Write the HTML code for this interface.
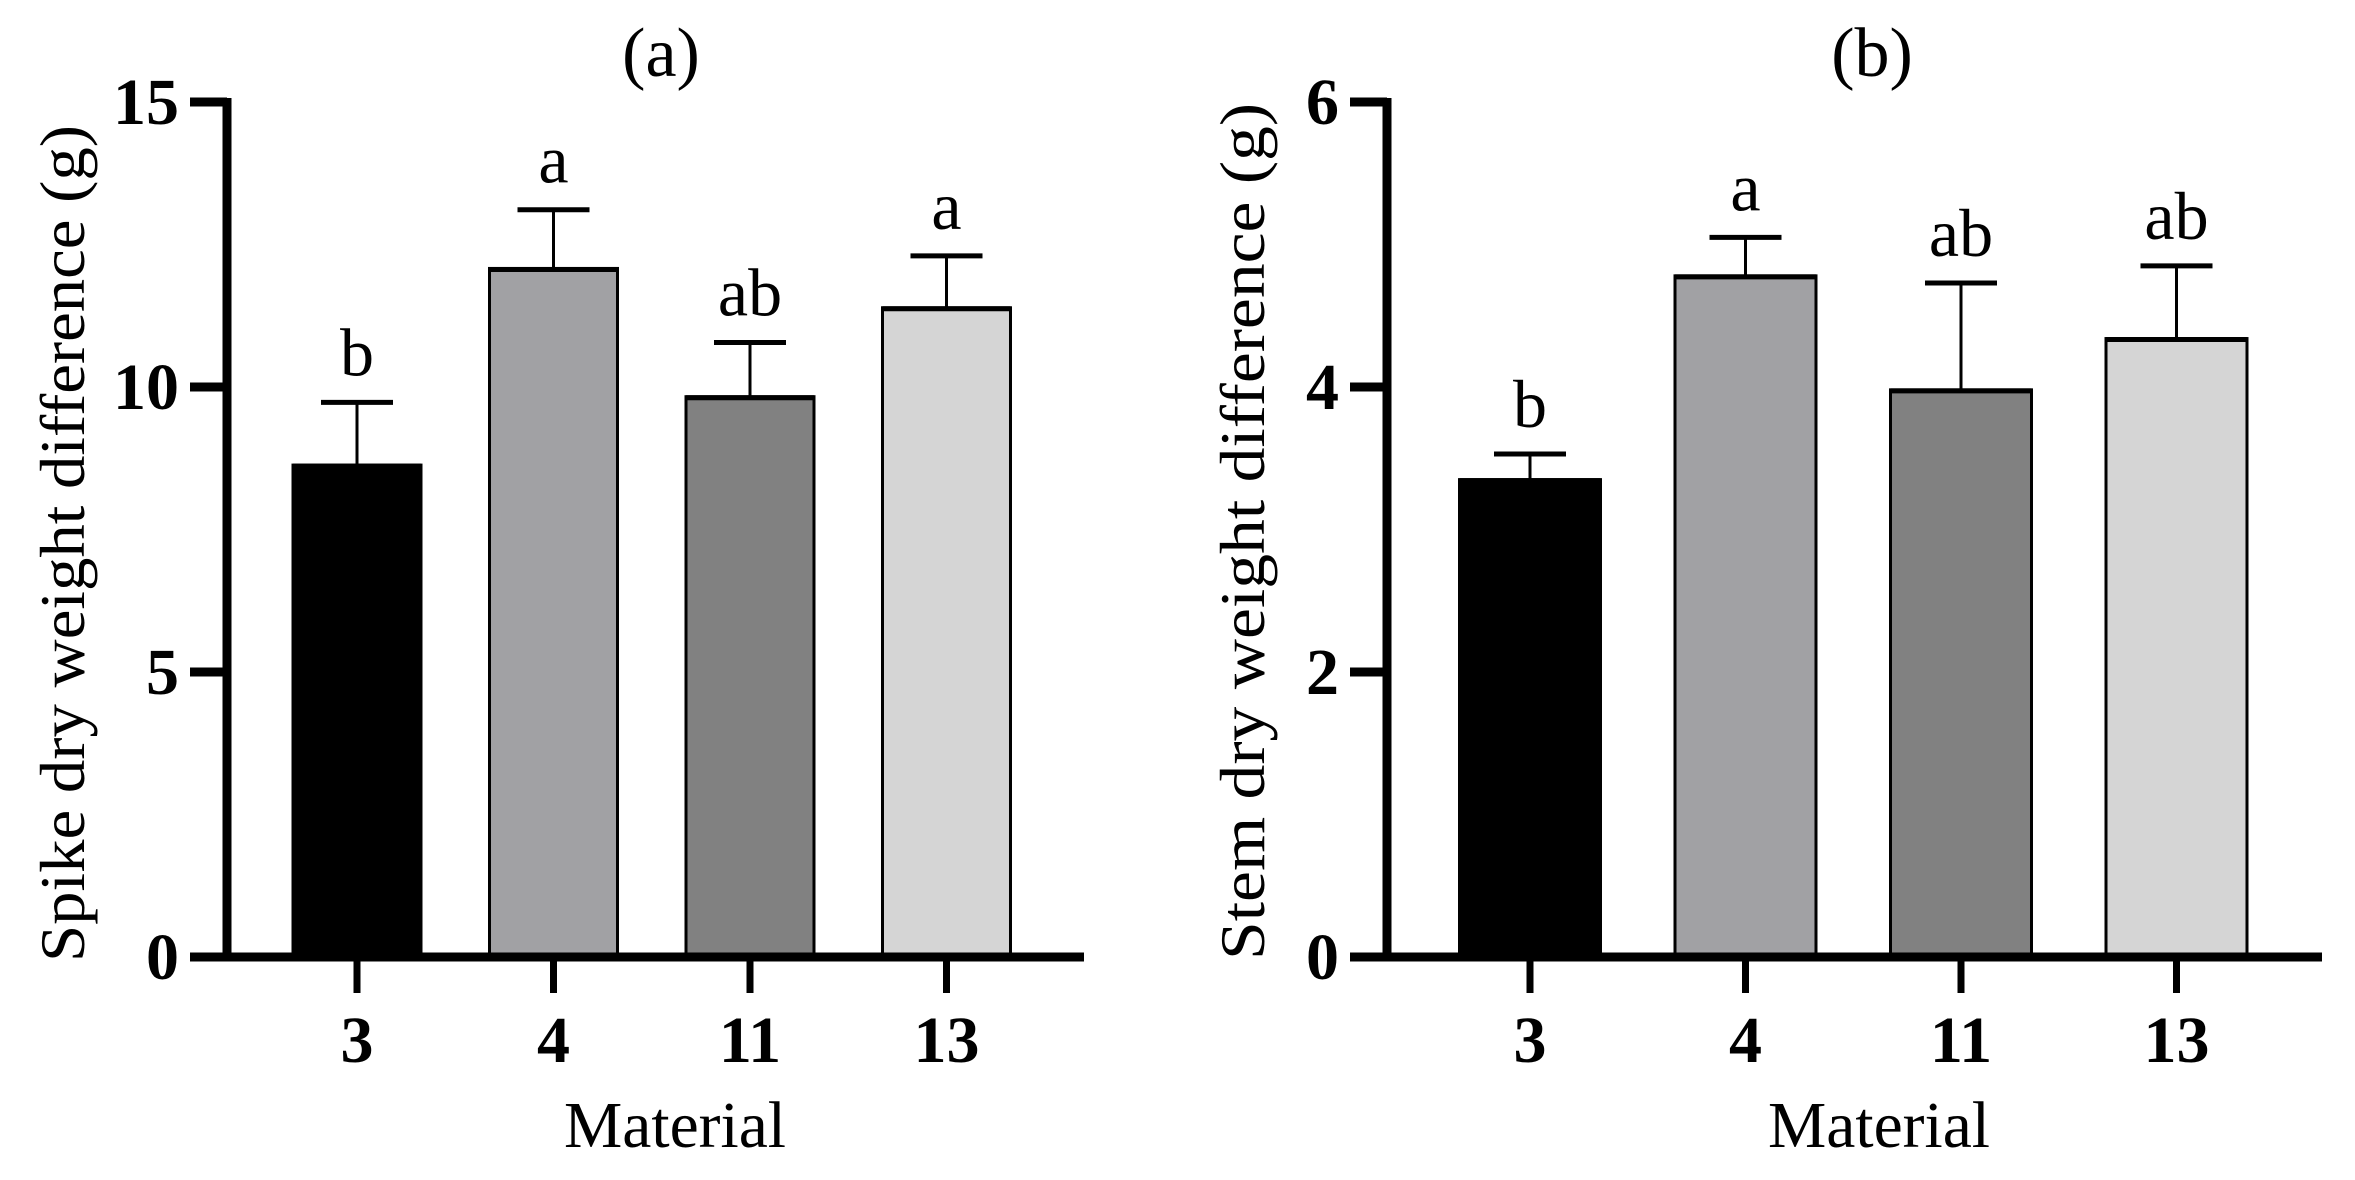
<!DOCTYPE html>
<html><head><meta charset="utf-8"><style>
html,body{margin:0;padding:0;background:#fff;}
svg{display:block;font-family:"Liberation Serif",serif;}
</style></head><body>
<svg id="fig" width="2355" height="1180" viewBox="0 0 2355 1180" xmlns="http://www.w3.org/2000/svg"></svg>
<script>
const categories = ["3","4","11","13"];
const spikeValues = [8.63, 12.08, 9.83, 11.39];
const spikeErrors = [1.10, 1.03, 0.95, 0.91];
const spikeLetters = ["b","a","ab","a"];
const spikeTicks = [0,5,10,15];
const stemValues = [3.35, 4.78, 3.98, 4.34];
const stemErrors = [0.18, 0.27, 0.75, 0.51];
const stemLetters = ["b","a","ab","ab"];
const stemTicks = [0,2,4,6];
const barColors = ["#000000","#a1a1a4","#818181","#d5d5d5"];

const NS="http://www.w3.org/2000/svg";
const svg=document.getElementById('fig');
function mk(tag,attrs,parent){const e=document.createElementNS(NS,tag);for(const k in attrs)e.setAttribute(k,attrs[k]);(parent||svg).appendChild(e);return e;}

function panel(cfg){
  const g=mk('g',{});
  
  
  const y=v=>cfg.y0-(v/cfg.max)*(cfg.y0-cfg.yTop);
  const x=i=>cfg.x0+i*cfg.step;
  cfg.values.forEach((v,i)=>{
    const cx=x(i), top=y(v), topE=y(v+cfg.errors[i]);
    const ln=mk('line',{x1:cx,x2:cx,y1:top,y2:topE,stroke:'#000','stroke-width':3},g);
    
    
    const cap=mk('line',{x1:cx-cfg.cap/2,x2:cx+cfg.cap/2,y1:topE,y2:topE,stroke:'#000','stroke-width':5},g);
    
    
    const r=mk('rect',{x:cx-cfg.bw/2,y:top,width:cfg.bw,height:cfg.y0-top,fill:barColors[i],stroke:'#000','stroke-width':3},g);
    
    
    const tl=mk('line',{x1:cx-cfg.bw/2,x2:cx+cfg.bw/2,y1:top+1,y2:top+1,stroke:'#000','stroke-width':5},g);
    
    
    const t=mk('text',{x:cx,y:topE-27,'text-anchor':'middle','font-size':68},g);
    t.textContent=cfg.letters[i];
    
    
    const tk=mk('line',{x1:cx,x2:cx,y1:cfg.y0,y2:cfg.y0+36,stroke:'#000','stroke-width':7},g);
    
    
    const xl=mk('text',{x:cx,y:1062,'text-anchor':'middle','font-size':66,'font-weight':'bold'},g);
    xl.textContent=categories[i];
    
    
  });
  const ya=mk('line',{x1:cfg.ax,x2:cfg.ax,y1:cfg.yTop-4,y2:cfg.y0+4,stroke:'#000','stroke-width':9},g);
  
  
  const xa=mk('line',{x1:cfg.ax-37,x2:cfg.xEnd,y1:cfg.y0,y2:cfg.y0,stroke:'#000','stroke-width':9},g);
  
  
  cfg.ticks.forEach(v=>{
    const tk=mk('line',{x1:cfg.ax-37,x2:cfg.ax,y1:y(v),y2:y(v),stroke:'#000','stroke-width':9},g);
    
    
    const tl=mk('text',{x:cfg.ax-48,y:y(v)+22,'text-anchor':'end','font-size':66,'font-weight':'bold'},g);
    tl.textContent=String(v);
    
    
  });
  const ttl=mk('text',{x:cfg.titleX,y:76,'text-anchor':'middle','font-size':70},g);
  ttl.textContent=cfg.title;
  
  
  const xt=mk('text',{x:cfg.matX,y:1147,'text-anchor':'middle','font-size':66,textLength:222,lengthAdjust:'spacingAndGlyphs'},g);
  xt.textContent='Material';
  
  
  const yc=(cfg.yt1+cfg.yt2)/2;
  const yt=mk('text',{x:0,y:0,'text-anchor':'middle','font-size':64,textLength:cfg.yt2-cfg.yt1,lengthAdjust:'spacingAndGlyphs',transform:`translate(${cfg.ytX},${yc}) rotate(-90)`},g);
  yt.textContent=cfg.ytitle;
  
  
}

panel({name:'panel-a-spike',values:spikeValues,errors:spikeErrors,letters:spikeLetters,ticks:spikeTicks,max:15,
  y0:957,yTop:102,ax:227,xEnd:1084,x0:357,step:196.5,bw:128,cap:72,title:'(a)',titleX:661,matX:675,
  ytitle:'Spike dry weight difference (g)',ytX:84,yt1:125,yt2:962});
panel({name:'panel-b-stem',values:stemValues,errors:stemErrors,letters:stemLetters,ticks:stemTicks,max:6,
  y0:957,yTop:102,ax:1387,xEnd:2322,x0:1530,step:215.5,bw:141,cap:72,title:'(b)',titleX:1872,matX:1879,
  ytitle:'Stem dry weight difference (g)',ytX:1264,yt1:103,yt2:960});
</script>
</body></html>
